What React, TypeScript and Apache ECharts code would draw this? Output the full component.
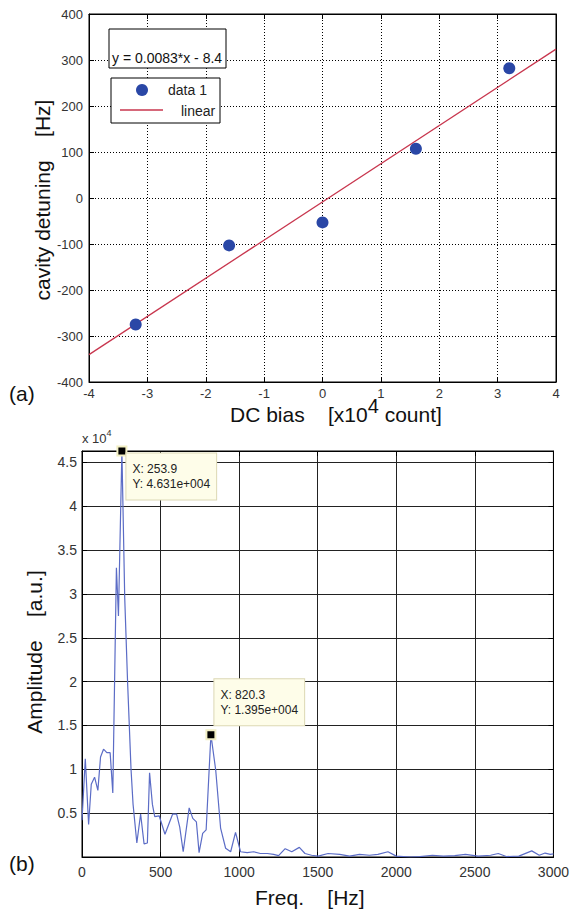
import React, { useEffect, useRef } from "react";
import * as echarts from "echarts";

// Panel (a): measured cavity detuning vs. DC bias (x10^4 counts)
const dcBias = [-3.2, -1.6, 0, 1.6, 3.2];
const detuningHz = [-275, -103, -53, 107, 282];

// Linear fit y = slope*x + intercept, x in raw counts
const fitSlope = 0.0083;
const fitIntercept = -8.4;
const fitRange = [-4, 4];
const countScale = 1e4;

// Panel (b): amplitude spectrum
const freqHz = [
  0, 21, 42, 59, 80, 101, 118, 137, 158, 179, 196, 219, 232, 253.9, 272, 290,
  312, 325, 349, 373, 395, 416, 430, 448, 463, 491, 528, 577, 602, 622, 644,
  682, 705, 728, 745, 768, 790, 820.3, 851, 882, 914, 946, 977, 1009, 1051,
  1093, 1135, 1180, 1219, 1251, 1293, 1335, 1383, 1419, 1461, 1503, 1566, 1640,
  1703, 1766, 1829, 1883, 1947, 2000, 2090, 2150, 2230, 2300, 2372, 2440, 2521,
  2600, 2649, 2700, 2780, 2862, 2910, 2947, 2980, 3000,
];
const amplitude = [
  4200, 11200, 3700, 8300, 9100, 7600, 11400, 12300, 11900, 11900, 7300, 33000,
  27500, 46310, 29500, 20000, 10000, 6000, 1600, 4900, 1500, 1600, 9600, 6000,
  4600, 4700, 2600, 4900, 4900, 3400, 600, 5600, 4400, 4000, 500, 2700, 3100,
  13950, 9900, 3300, 1000, 600, 2800, 600, 500, 600, 400, 400, 300, 150, 950,
  600, 1100, 400, 200, 100, 400, 300, 100, 300, 200, 300, 600, 100, 0, 50, 200,
  100, 150, 300, 100, 200, 400, 50, 100, 700, 200, 450, 300, 350,
];

// Data-cursor tips on the two spectral peaks
const tipFreq = [253.9, 820.3];
const tipAmp = [46310, 13950];

const yTicksB = [5000, 10000, 15000, 20000, 25000, 30000, 35000, 40000, 45000];

const FONT = "Liberation Sans, Arial, sans-serif";

function matlabExp(v: number): string {
  const [m, e] = v.toExponential(3).split("e");
  const n = parseInt(e, 10);
  const sign = n < 0 ? "-" : "+";
  return `${m}e${sign}${String(Math.abs(n)).padStart(3, "0")}`;
}

function fitLine(x: number): number {
  return fitSlope * x * countScale + fitIntercept;
}

function measure(text: string, size: number): number {
  const ctx = document.createElement("canvas").getContext("2d");
  if (!ctx) return text.length * size * 0.55;
  ctx.font = `${size}px "Liberation Sans", Arial, sans-serif`;
  return ctx.measureText(text).width;
}

// Base text followed by a raised exponent and an optional tail, as separate text elements
function withExponent(
  x: number, y: number, base: string, exp: string, tail: string,
  size: number, expSize: number, rise: number, fill: string
): any[] {
  const wBase = measure(base, size);
  const wExp = measure(exp, expSize);
  const els: any[] = [
    { type: "text", x, y, style: { text: base, font: `${size}px ${FONT}`, fill, textVerticalAlign: "middle" } },
    { type: "text", x: x + wBase, y: y - rise, style: { text: exp, font: `${expSize}px ${FONT}`, fill, textVerticalAlign: "middle" } },
  ];
  if (tail) {
    els.push({ type: "text", x: x + wBase + wExp, y, style: { text: tail, font: `${size}px ${FONT}`, fill, textVerticalAlign: "middle" } });
  }
  return els;
}

export default function App() {
  const ref = useRef<HTMLDivElement>(null);

  useEffect(() => {
    if (!ref.current) return;
    const chart = echarts.init(ref.current, undefined, { renderer: "svg" });

    const tickLabel = { color: "#333", fontSize: 13, fontFamily: FONT };
    const axisLine = { show: true, onZero: false, lineStyle: { color: "#000", width: 1 } };
    const tickIn = { show: true, inside: true, length: 5, lineStyle: { color: "#000" } };
    const dotted = { show: true, lineStyle: { color: "#000", width: 1, type: [1, 2] as any } };
    const solid = { show: true, lineStyle: { color: "#222", width: 1 } };
    const mirror = { axisLabel: { show: false }, splitLine: { show: false } };

    const option: any = {
      animation: false,
      backgroundColor: "#fff",
      grid: [
        { left: 89, top: 14, width: 467, height: 368, show: true, borderColor: "#000", borderWidth: 1 },
        { left: 82, top: 451, width: 475, height: 406, show: true, borderColor: "#000", borderWidth: 1 },
      ],
      xAxis: [
        {
          gridIndex: 0, type: "value", min: -4, max: 4, interval: 1, position: "bottom",
          axisLine, axisTick: tickIn, splitLine: dotted,
          axisLabel: { ...tickLabel, margin: 5 },
        },
        {
          gridIndex: 0, type: "value", min: -4, max: 4, interval: 1, position: "top",
          axisLine, axisTick: tickIn, ...mirror,
        },
        {
          gridIndex: 1, type: "value", min: 0, max: 3000, interval: 500, position: "bottom",
          axisLine, axisTick: tickIn, splitLine: solid,
          axisLabel: { ...tickLabel, fontSize: 14, margin: 8, formatter: (v: number) => String(v) },
        },
        {
          gridIndex: 1, type: "value", min: 0, max: 3000, interval: 500, position: "top",
          axisLine, axisTick: tickIn, ...mirror,
        },
      ],
      yAxis: [
        {
          gridIndex: 0, type: "value", min: -400, max: 400, interval: 100, position: "left",
          axisLine, axisTick: tickIn, splitLine: dotted,
          axisLabel: { ...tickLabel, margin: 6 },
        },
        {
          gridIndex: 0, type: "value", min: -400, max: 400, interval: 100, position: "right",
          axisLine, axisTick: tickIn, ...mirror,
        },
        {
          gridIndex: 1, type: "value", min: 0, max: tipAmp[0], interval: 5000, position: "left",
          axisLine, axisTick: tickIn, splitLine: solid,
          axisLabel: {
            ...tickLabel, fontSize: 14, margin: 5,
            formatter: (v: number) => (yTicksB.includes(v) ? String(v / countScale) : ""),
          },
        },
        {
          gridIndex: 1, type: "value", min: 0, max: tipAmp[0], interval: 5000, position: "right",
          axisLine, axisTick: tickIn, ...mirror,
        },
      ],
      series: [
        {
          name: "linear", type: "line", xAxisIndex: 0, yAxisIndex: 0,
          data: fitRange.map((x) => [x, fitLine(x)]),
          showSymbol: false, symbol: "none",
          lineStyle: { color: "#c8364e", width: 1.3 },
          z: 3,
        },
        {
          name: "data 1", type: "scatter", xAxisIndex: 0, yAxisIndex: 0,
          data: dcBias.map((x, i) => [x, detuningHz[i]]),
          symbolSize: 12,
          itemStyle: { color: "#2a47a6", opacity: 1 },
          z: 4,
        },
        {
          name: "spectrum", type: "line", xAxisIndex: 2, yAxisIndex: 2,
          data: freqHz.map((f, i) => [f, amplitude[i]]),
          showSymbol: false, symbol: "none",
          lineStyle: { color: "#5b6cc6", width: 1.2 },
          z: 3,
        },
        {
          name: "peaks", type: "scatter", xAxisIndex: 2, yAxisIndex: 2, clip: false,
          symbol: "rect", symbolSize: 9,
          itemStyle: { color: "#000", borderColor: "#f2efc4", borderWidth: 2, opacity: 1 },
          z: 6,
          label: {
            show: true,
            formatter: (p: any) => `X: ${p.value[0]}\nY: ${matlabExp(p.value[1])}`,
            color: "#222", fontSize: 12, fontFamily: FONT, lineHeight: 15,
            backgroundColor: "#fefde9", borderColor: "#dcd8b4", borderWidth: 1,
            padding: [8, 6], align: "left", verticalAlign: "top",
          },
          data: [
            { value: [tipFreq[0], tipAmp[0]], label: { position: [10, 8] } },
            { value: [tipFreq[1], tipAmp[1]], label: { position: [9, -50] } },
          ],
        },
      ],
      graphic: [
        // fit equation box
        {
          type: "rect", z: 10,
          shape: { x: 109, y: 29, width: 117, height: 39 },
          style: { fill: "#fff", stroke: "#000", lineWidth: 1 },
        },
        {
          type: "text", z: 11, x: 112, y: 58,
          style: {
            text: `y = ${fitSlope}*x - ${Math.abs(fitIntercept)}`,
            font: `14px ${FONT}`, fill: "#111", textVerticalAlign: "middle",
          },
        },
        // legend box
        {
          type: "rect", z: 10,
          shape: { x: 111, y: 78, width: 109, height: 45 },
          style: { fill: "#fff", stroke: "#000", lineWidth: 1 },
        },
        {
          type: "circle", z: 11,
          shape: { cx: 142, cy: 90, r: 6 },
          style: { fill: "#2a47a6" },
        },
        {
          type: "line", z: 11,
          shape: { x1: 120, y1: 110, x2: 163, y2: 110 },
          style: { stroke: "#c8364e", lineWidth: 1.3 },
        },
        {
          type: "text", z: 11, x: 168, y: 90,
          style: { text: "data 1", font: `14px ${FONT}`, fill: "#222", textVerticalAlign: "middle" },
        },
        {
          type: "text", z: 11, x: 181, y: 111,
          style: { text: "linear", font: `14px ${FONT}`, fill: "#222", textVerticalAlign: "middle" },
        },
        // panel (a) axis titles
        {
          type: "text", x: 42, y: 200, rotation: Math.PI / 2,
          style: {
            text: "cavity detuning    [Hz]", font: `21px ${FONT}`, fill: "#111",
            textAlign: "center", textVerticalAlign: "middle",
          },
        },
        ...withExponent(230, 414, "DC bias    [x10", "4", " count]", 21, 20, 8, "#111"),
        {
          type: "text", x: 9, y: 393,
          style: { text: "(a)", font: `21px ${FONT}`, fill: "#111", textVerticalAlign: "middle" },
        },
        // panel (b) axis titles
        ...withExponent(82, 438, "x 10", "4", "", 13, 9, 5, "#333"),
        {
          type: "text", x: 34, y: 652, rotation: Math.PI / 2,
          style: {
            text: "Amplitude    [a.u.]", font: `21px ${FONT}`, fill: "#111",
            textAlign: "center", textVerticalAlign: "middle",
          },
        },
        {
          type: "text", x: 255, y: 897,
          style: { text: "Freq.    [Hz]", font: `21px ${FONT}`, fill: "#111", textVerticalAlign: "middle" },
        },
        {
          type: "text", x: 9, y: 863,
          style: { text: "(b)", font: `21px ${FONT}`, fill: "#111", textVerticalAlign: "middle" },
        },
      ],
    };

    chart.setOption(option);
    return () => chart.dispose();
  }, []);

  return (
    <div
      ref={ref}
      style={{ position: "absolute", left: 0, top: 0, width: 572, height: 914 }}
    />
  );
}
